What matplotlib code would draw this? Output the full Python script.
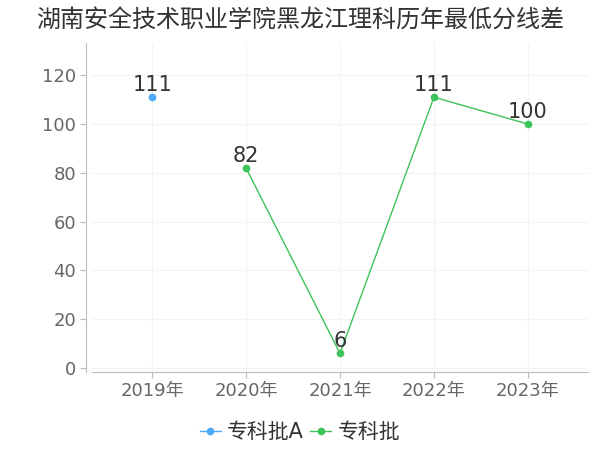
import matplotlib
matplotlib.use("Agg")
import matplotlib.pyplot as plt

plt.rcParams['font.family'] = ['DejaVu Sans', 'Noto Sans CJK SC']

title = "湖南安全技术职业学院黑龙江理科历年最低分线差"
years = ["2019年", "2020年", "2021年", "2022年", "2023年"]
series_a_name = "专科批A"
series_a_idx = [0]
series_a_vals = [111]
series_b_name = "专科批"
series_b_idx = [1, 2, 3, 4]
series_b_vals = [82, 6, 111, 100]

blue = "#4ba9f7"
green = "#3dc35a"

fig = plt.figure(figsize=(6, 4.5), dpi=100)
ax = fig.add_axes([0.1533, 0.1733, 0.8267, 0.7311])

ax.plot(series_a_idx, series_a_vals, color=blue, marker='o', markersize=4.5, lw=1, label=series_a_name)
ax.plot(series_b_idx, series_b_vals, color=green, marker='o', markersize=4.5, lw=1, label=series_b_name)

for i, v in zip(series_a_idx, series_a_vals):
    ax.text(i, v + 0.8, str(v), ha='center', va='bottom', fontsize=15, color='#333333')
for i, v in zip(series_b_idx, series_b_vals):
    ax.text(i, v + 0.8, str(v), ha='center', va='bottom', fontsize=15, color='#333333')

ax.set_xlim(-0.64, 4.64)
ax.set_ylim(-1.64, 133.2)
ax.set_xticks(range(len(years)))
ax.set_xticklabels(years)
ax.set_yticks(range(0, 121, 20))
ax.tick_params(axis='both', colors='#bbbbbb', labelcolor='#666666', labelsize=13, length=4)
ax.grid(True, color='#f3f3f3', lw=0.8)
ax.set_axisbelow(True)
for s in ['top', 'right']:
    ax.spines[s].set_visible(False)
ax.spines['left'].set_color('#bbbbbb')
ax.spines['bottom'].set_color('#bbbbbb')
ax.spines['left'].set_position(('outward', 4))

fig.text(0.5, 0.955, title, ha='center', va='center', fontsize=17.3, color='#333333')
fig.legend(loc='center', bbox_to_anchor=(0.5, 0.04), ncol=2, frameon=False, fontsize=15,
           handlelength=1.0, handletextpad=0.3, columnspacing=0.3, labelcolor='#333333')

fig.savefig("out.png", dpi=100)
